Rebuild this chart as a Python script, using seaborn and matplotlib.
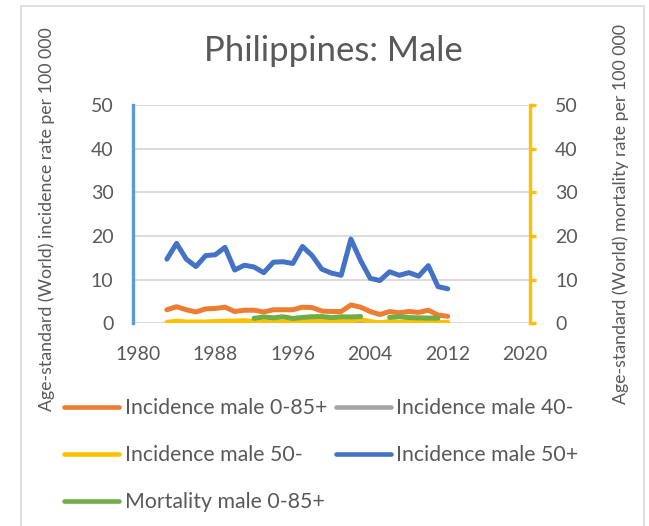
import numpy as np
import pandas as pd
import seaborn as sns
import matplotlib.pyplot as plt
from matplotlib.patches import Rectangle

# Datos
years = list(range(1983, 2013))
inc_0_85 = [3.1, 3.8, 3.1, 2.6, 3.3, 3.4, 3.7, 2.7, 3.0, 3.0, 2.6, 3.1, 3.1, 3.1, 3.7,
            3.6, 2.8, 2.7, 2.7, 4.2, 3.7, 2.7, 2.0, 2.7, 2.4, 2.7, 2.5, 3.0, 1.9, 1.6]
inc_40 = [0.05, 0.1, 0.1, 0.1, 0.1, 0.1, 0.1, 0.1, 0.1, 0.1, 0.1, 0.1, 0.1, 0.2, 0.1,
          0.3, 0.1, 0.1, 0.1, 0.2, 0.5, 0.1, 0.05, 0.2, 0.1, 0.1, 0.1, 0.1, 0.1, 0.1]
inc_50m = [0.2, 0.5, 0.3, 0.3, 0.3, 0.4, 0.5, 0.5, 0.6, 0.4, 0.3, 0.4, 0.3, 0.5, 0.4,
           0.4, 0.4, 0.4, 0.5, 0.6, 0.9, 0.4, 0.1, 0.4, 0.2, 0.3, 0.3, 0.3, 0.2, 0.2]
inc_50p = [14.7, 18.3, 14.7, 13.0, 15.5, 15.7, 17.4, 12.2, 13.3, 12.9, 11.6, 14.0, 14.1,
           13.7, 17.6, 15.5, 12.4, 11.5, 11.0, 19.3, 14.4, 10.3, 9.8, 11.8, 11.0, 11.6,
           10.8, 13.2, 8.4, 7.9]
mort_0_85 = [np.nan] * 9 + [1.15, 1.45, 1.25, 1.5, 1.1, 1.35, 1.5, 1.55, 1.3, 1.5, 1.45,
                            1.55, np.nan, np.nan, 1.35, 1.5, 1.3, 1.25, 1.2, 1.2, np.nan]

labels = ['Incidence male 0-85+', 'Incidence male 40-', 'Incidence male 50-',
          'Incidence male 50+', 'Mortality male 0-85+']
colores = ['#ED7D31', '#A5A5A5', '#FFC000', '#4472C4', '#70AD47']
x_ticks = [1980, 1988, 1996, 2004, 2012, 2020]
y_ticks = [0, 10, 20, 30, 40, 50]

sns.set_style('white')
plt.rcParams['font.family'] = ['Lato', 'DejaVu Sans']
gris = '#595959'

fig = plt.figure(figsize=(6.49, 5.26), dpi=100)
fig.patches.append(Rectangle((21 / 649, -0.05), 623 / 649, 1.05 - 6 / 526,
                             transform=fig.transFigure, fill=False,
                             edgecolor='#D9D9D9', linewidth=1.2))
ax = fig.add_axes([133 / 649, 1 - 323.3 / 526, 397 / 649, 218.3 / 526])
ax2 = ax.twinx()

lw = 3.6
series = [inc_0_85, inc_40, inc_50m, inc_50p]
handles = {}
for vals, lab, col in zip(series, labels[:4], colores[:4]):
    sns.lineplot(x=years, y=vals, ax=ax, color=col, linewidth=lw,
                 solid_capstyle='round', solid_joinstyle='round', legend=False)
    handles[lab] = ax.lines[-1]

# Mortalidad en el eje secundario, con hueco en 2004-2005
df_m = pd.DataFrame({'year': years, 'val': mort_0_85})
df_m['tramo'] = df_m['val'].isna().cumsum()
for _, g in df_m.dropna().groupby('tramo'):
    sns.lineplot(data=g, x='year', y='val', ax=ax2, color=colores[4], linewidth=lw,
                 solid_capstyle='round', solid_joinstyle='round', legend=False)
handles[labels[4]] = ax2.lines[0]

for a in (ax, ax2):
    a.set_xlim(1979.5, 2020.5)
    a.set_ylim(0, 50)
    a.set_yticks(y_ticks)
    a.set_xlabel('')
    a.set_ylabel('')
ax.set_xticks(x_ticks)
ax.grid(axis='y', color='#D9D9D9', linewidth=1.3)
ax.set_axisbelow(True)

for s in ['top', 'right', 'bottom']:
    ax.spines[s].set_visible(False)
ax.spines['left'].set_color('#5B9BD5')
ax.spines['left'].set_linewidth(2.4)
for s in ['top', 'left', 'bottom']:
    ax2.spines[s].set_visible(False)
ax2.spines['right'].set_color('#FFC000')
ax2.spines['right'].set_linewidth(2.4)

ax.tick_params(axis='y', length=0, pad=14, labelsize=14, labelcolor=gris)
ax.tick_params(axis='x', length=0, pad=16, labelsize=14, labelcolor=gris)
ax2.tick_params(axis='y', direction='out', length=4, width=2.4, color='#FFC000',
                pad=14, labelsize=14, labelcolor=gris)

fig.text(333.5 / 649, 1 - 51 / 526, 'Philippines: Male', ha='center', va='center',
         fontsize=25, color=gris)
fig.text(46.7 / 649, 1 - 219 / 526, 'Age-standard (World) incidence rate per 100 000',
         rotation=90, ha='center', va='center', fontsize=12.8, color=gris)
fig.text(621 / 649, 1 - 214 / 526, 'Age-standard (World) mortality rate per 100 000',
         rotation=90, ha='center', va='center', fontsize=12.8, color=gris)

orden = [labels[0], labels[2], labels[4], labels[1], labels[3]]
leg = fig.legend([handles[l] for l in orden], orden, ncol=2, loc='upper left',
                 bbox_to_anchor=(64 / 649, 1 - 398 / 526), frameon=False,
                 fontsize=15.3, labelcolor=gris, handlelength=2.6, handletextpad=0.25,
                 columnspacing=0.4, labelspacing=1.27, borderpad=0, borderaxespad=0)
for h in leg.legend_handles:
    h.set_linewidth(3.3)

fig.savefig('out.png', dpi=100)
